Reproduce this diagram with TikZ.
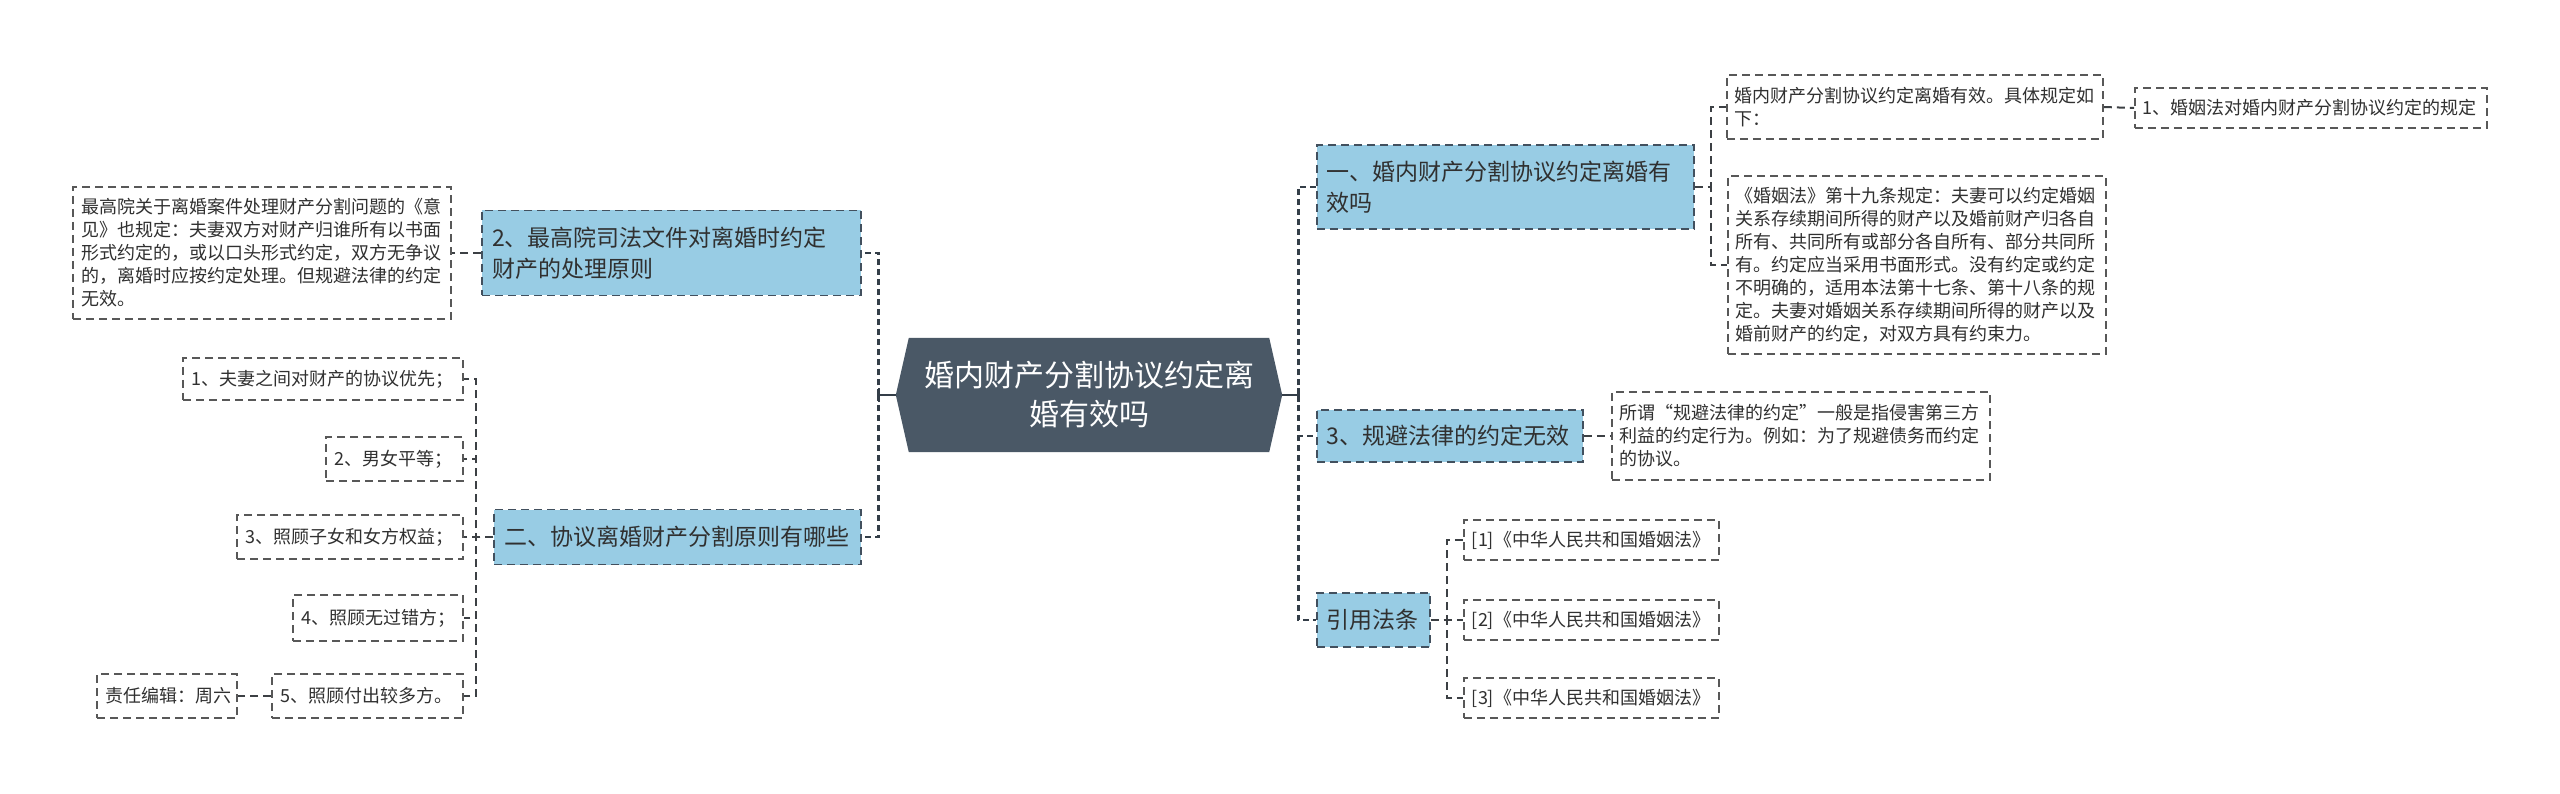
\documentclass[tikz,border=0pt]{standalone}
\usepackage{fontspec}
\newfontfamily\cjk{Noto Sans CJK SC}
\usetikzlibrary{calc,backgrounds}
\definecolor{bluef}{RGB}{152,204,228}
\definecolor{bord}{RGB}{66,80,94}
\definecolor{centralfill}{RGB}{74,88,102}
\definecolor{lineC}{RGB}{60,64,68}
\definecolor{mainC}{RGB}{52,62,72}
\definecolor{plainbord}{RGB}{88,88,88}
\definecolor{txt}{RGB}{48,48,48}
\tikzset{
  boxbase/.style={text=txt, inner ysep=0pt, align=left, line width=1.8pt, dash pattern=on 8pt off 5pt},
  bluebox/.style={boxbase, draw=bord, fill=bluef, inner xsep=10pt, font=\cjk\fontsize{23}{31}\selectfont},
  plainbox/.style={boxbase, draw=plainbord, fill=white, inner xsep=8pt, font=\cjk\fontsize{18}{23}\selectfont},
  centralbox/.style={text=white, align=center, inner sep=0pt, minimum width=386pt, minimum height=114pt, font=\cjk\fontsize{30}{39}\selectfont},
  conn/.style={draw=lineC, line width=2pt, dash pattern=on 8pt off 5pt},
  mainconn/.style={draw=mainC, line width=2.8pt, dash pattern=on 6pt off 4pt},
  stub/.style={draw=mainC, line width=2.6pt},
}
\begin{document}
\begin{tikzpicture}[x=1pt,y=-1pt]
\useasboundingbox (0,0) rectangle (2560,794);
% central
\node[centralbox] (c) at (1089,395) {婚内财产分割协议约定离\\婚有效吗};
\begin{scope}[on background layer]
\fill[white] (0,0) rectangle (2560,794);
\fill[centralfill] (c.west) -- ($(c.north west)+(13,0)$) -- ($(c.north east)+(-13,0)$) -- (c.east) -- ($(c.south east)+(-13,0)$) -- ($(c.south west)+(13,0)$) -- cycle;
\end{scope}

% left side
\node[bluebox, anchor=east, text width=359pt, minimum height=85pt] (L1) at (862,253) {2、最高院司法文件对离婚时约定\\财产的处理原则};
\node[plainbox, anchor=east, text width=362pt, minimum height=132pt] (L1t) at (452,253) {最高院关于离婚案件处理财产分割问题的《意\\见》也规定：夫妻双方对财产归谁所有以书面\\形式约定的，或以口头形式约定，双方无争议\\的，离婚时应按约定处理。但规避法律的约定\\无效。};
\node[bluebox, anchor=east, text width=347pt, minimum height=55pt] (L2) at (862,537) {二、协议离婚财产分割原则有哪些};

\node[plainbox, anchor=east, text width=264pt, minimum height=42pt] (I1) at (464,379) {1、夫妻之间对财产的协议优先；};
\node[plainbox, anchor=east, text width=121pt, minimum height=44pt] (I2) at (464,459) {2、男女平等；};
\node[plainbox, anchor=east, text width=210pt, minimum height=44pt] (I3) at (464,537) {3、照顾子女和女方权益；};
\node[plainbox, anchor=east, text width=154pt, minimum height=46pt] (I4) at (464,618) {4、照顾无过错方；};
\node[plainbox, anchor=east, text width=175pt, minimum height=44pt] (I5) at (464,696) {5、照顾付出较多方。};
\node[plainbox, anchor=east, text width=124pt, minimum height=44pt] (ed) at (238,696) {责任编辑：周六};

% right side
\node[bluebox, anchor=west, text width=357pt, minimum height=84pt] (R1) at (1316,187) {一、婚内财产分割协议约定离婚有\\效吗};
\node[plainbox, anchor=west, text width=360pt, minimum height=64pt] (R1a) at (1726,107) {婚内财产分割协议约定离婚有效。具体规定如\\下：};
\node[plainbox, anchor=west, text width=336pt, minimum height=40pt] (R1c) at (2134,108) {1、婚姻法对婚内财产分割协议约定的规定};
\node[plainbox, anchor=west, text width=362pt, minimum height=178pt] (R1b) at (1727,265) {《婚姻法》第十九条规定：夫妻可以约定婚姻\\关系存续期间所得的财产以及婚前财产归各自\\所有、共同所有或部分各自所有、部分共同所\\有。约定应当采用书面形式。没有约定或约定\\不明确的，适用本法第十七条、第十八条的规\\定。夫妻对婚姻关系存续期间所得的财产以及\\婚前财产的约定，对双方具有约束力。};
\node[bluebox, anchor=west, text width=246pt, minimum height=52pt] (R2) at (1316,436) {3、规避法律的约定无效};
\node[plainbox, anchor=west, text width=362pt, minimum height=88pt] (R2a) at (1611,436) {所谓“规避法律的约定”一般是指侵害第三方\\利益的约定行为。例如：为了规避债务而约定\\的协议。};
\node[bluebox, anchor=west, text width=93pt, minimum height=54pt] (R3) at (1316,620) {引用法条};
\node[plainbox, anchor=west, text width=239pt, minimum height=40pt] (C1) at (1463,540) {[1]《中华人民共和国婚姻法》};
\node[plainbox, anchor=west, text width=239pt, minimum height=40pt] (C2) at (1463,620) {[2]《中华人民共和国婚姻法》};
\node[plainbox, anchor=west, text width=239pt, minimum height=40pt] (C3) at (1463,698) {[3]《中华人民共和国婚姻法》};

% connectors
\coordinate (jl) at ($(c.west)+(-17,0)$);
\coordinate (jr) at ($(c.east)+(16,0)$);
\draw[mainconn] (jl) |- (L1.east);
\draw[mainconn] (jl) |- (L2.east);
\draw[mainconn] (jr) |- (R1.west);
\draw[mainconn] (jr) |- (R2.west);
\draw[mainconn] (jr) |- (R3.west);
\draw[stub] (c.west) -- (jl) ++(0,-7) -- ++(0,14);
\draw[stub] (c.east) -- (jr) ++(0,-7) -- ++(0,14);
\draw[conn] (L1.west) -- (L1t.east);
\foreach \i in {I1,I2,I3,I4,I5} {\draw[conn] (L2.west) -- ++(-17,0) |- (\i.east);}
\draw[conn] (I5.west) -- (ed.east);
\draw[conn] (R1.east) -- ++(16,0) |- (R1a.west);
\draw[conn] (R1.east) -- ++(16,0) |- (R1b.west);
\draw[conn] (R1a.east) -- (R1c.west);
\draw[conn] (R2.east) -- (R2a.west);
\foreach \i in {C1,C2,C3} {\draw[conn] (R3.east) -- ++(16,0) |- (\i.west);}
\end{tikzpicture}
\end{document}
